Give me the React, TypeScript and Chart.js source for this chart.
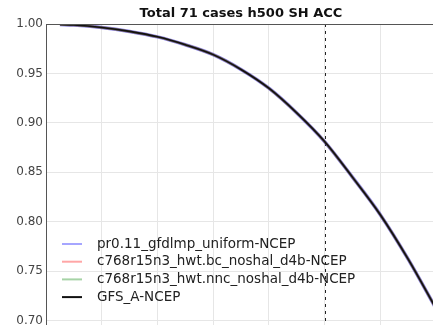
import React, { useEffect, useRef } from 'react';
import Chart from 'chart.js/auto';

// Forecast lead time (hours) and anomaly correlation for each experiment
const hours = [6, 12, 24, 36, 48, 60, 72, 84, 96, 108, 120, 132, 144, 156, 168];
const prGfdlmp = [0.9995, 0.999, 0.9965, 0.9925, 0.987, 0.979, 0.969, 0.954, 0.935, 0.91, 0.881, 0.845, 0.807, 0.762, 0.712];
const hwtBc = [0.9995, 0.999, 0.9965, 0.9925, 0.987, 0.979, 0.969, 0.954, 0.935, 0.91, 0.881, 0.845, 0.807, 0.762, 0.712];
const hwtNnc = [0.9995, 0.999, 0.9965, 0.9925, 0.987, 0.979, 0.969, 0.954, 0.935, 0.91, 0.881, 0.845, 0.807, 0.762, 0.712];
const gfsA = [0.9995, 0.999, 0.9965, 0.9925, 0.987, 0.979, 0.969, 0.954, 0.935, 0.91, 0.881, 0.845, 0.807, 0.762, 0.712];

const seriesLabels = [
  'pr0.11_gfdlmp_uniform-NCEP',
  'c768r15n3_hwt.bc_noshal_d4b-NCEP',
  'c768r15n3_hwt.nnc_noshal_d4b-NCEP',
  'GFS_A-NCEP',
];
const yTickValues = [0.65, 0.7, 0.75, 0.8, 0.85, 0.9, 0.95, 1.0];
const xTickHours = [0, 24, 48, 72, 96, 120, 144, 168];
const titleText = 'Total 71 cases h500 SH ACC';
const dayFiveHour = 120;

const FONT = '"DejaVu Sans", sans-serif';

const overlayPlugin = {
  id: 'overlay',
  beforeDatasetsDraw(chart: any) {
    const { ctx, chartArea, scales } = chart;
    const x = scales.x.getPixelForValue(dayFiveHour);
    ctx.save();
    ctx.strokeStyle = '#222';
    ctx.lineWidth = 1;
    ctx.setLineDash([3, 4]);
    ctx.beginPath();
    ctx.moveTo(Math.round(x) + 0.5, chartArea.top);
    ctx.lineTo(Math.round(x) + 0.5, chartArea.bottom);
    ctx.stroke();
    ctx.restore();
  },
  afterDraw(chart: any) {
    const { ctx, chartArea } = chart;
    ctx.save();
    // top frame line
    ctx.strokeStyle = '#555';
    ctx.lineWidth = 1;
    ctx.beginPath();
    ctx.moveTo(chartArea.left, chartArea.top + 0.5);
    ctx.lineTo(chartArea.right, chartArea.top + 0.5);
    ctx.stroke();

    // title
    ctx.fillStyle = '#111';
    ctx.font = `bold 13px ${FONT}`;
    ctx.textAlign = 'center';
    ctx.textBaseline = 'middle';
    ctx.fillText(titleText, (chartArea.left + chartArea.right) / 2, 14);

    // legend inside the axes, lower left
    const datasets = chart.data.datasets;
    const x0 = chartArea.left + 16;
    const rowTop = 244;
    const rowGap = 17.7;
    ctx.font = `13.5px ${FONT}`;
    ctx.textAlign = 'left';
    datasets.forEach((ds: any, i: number) => {
      const y = rowTop + i * rowGap;
      ctx.strokeStyle = ds.legendColor;
      ctx.lineWidth = 2;
      ctx.beginPath();
      ctx.moveTo(x0, y);
      ctx.lineTo(x0 + 20, y);
      ctx.stroke();
      ctx.fillStyle = '#222';
      ctx.fillText(ds.label, x0 + 35, y);
    });
    ctx.restore();
  },
};

export default function App() {
  const canvasRef = useRef<HTMLCanvasElement | null>(null);

  useEffect(() => {
    if (!canvasRef.current) return;
    const toPoints = (vals: number[]) => hours.map((h, i) => ({ x: h, y: vals[i] }));
    const chart = new Chart(canvasRef.current, {
      type: 'line',
      data: {
        datasets: [
          {
            label: seriesLabels[0],
            data: toPoints(prGfdlmp),
            borderColor: 'rgba(40,40,230,0.55)',
            legendColor: 'rgba(0,0,255,0.35)',
            borderWidth: 3.5,
            order: 3,
          },
          {
            label: seriesLabels[1],
            data: toPoints(hwtBc),
            borderColor: 'rgba(255,0,0,0.35)',
            legendColor: 'rgba(255,0,0,0.35)',
            borderWidth: 2.5,
            order: 2,
          },
          {
            label: seriesLabels[2],
            data: toPoints(hwtNnc),
            borderColor: 'rgba(0,128,0,0.35)',
            legendColor: 'rgba(0,128,0,0.35)',
            borderWidth: 2.5,
            order: 1,
          },
          {
            label: seriesLabels[3],
            data: toPoints(gfsA),
            borderColor: '#111',
            legendColor: '#111',
            borderWidth: 1.6,
            order: 0,
          },
        ] as any,
      },
      options: {
        animation: false,
        responsive: false,
        maintainAspectRatio: false,
        layout: { padding: { top: 24, right: 4, bottom: 6, left: 0 } },
        elements: {
          point: { radius: 0 },
          line: { cubicInterpolationMode: 'monotone', fill: false },
        },
        plugins: {
          legend: { display: false },
          title: { display: false },
          tooltip: { enabled: false },
        },
        scales: {
          x: {
            type: 'linear',
            min: 0,
            max: 168,
            afterBuildTicks: (scale: any) => {
              scale.ticks = xTickHours.map((v) => ({ value: v }));
            },
            afterFit: (scale: any) => {
              scale.height = 0;
            },
            ticks: { display: false },
            grid: { color: '#e6e6e6', drawTicks: false, lineWidth: 1 },
            border: { display: false },
          },
          y: {
            type: 'linear',
            min: 0.65,
            max: 1.0,
            afterBuildTicks: (scale: any) => {
              scale.ticks = yTickValues.map((v) => ({ value: v }));
            },
            afterFit: (scale: any) => {
              scale.width = 46;
            },
            ticks: {
              padding: 3,
              color: '#444',
              font: { family: FONT, size: 12 },
              callback: (v: any) => Number(v).toFixed(2),
            },
            grid: { color: '#e6e6e6', drawTicks: false, lineWidth: 1 },
            border: { display: true, color: '#555', width: 1 },
          },
        },
      } as any,
      plugins: [overlayPlugin],
    });
    return () => chart.destroy();
  }, []);

  return (
    <div
      style={{
        position: 'absolute',
        left: 0,
        top: 0,
        width: 433,
        height: 325,
        overflow: 'hidden',
        background: '#fff',
      }}
    >
      <canvas ref={canvasRef} width={440} height={380} style={{ width: 440, height: 380, display: 'block' }} />
    </div>
  );
}
